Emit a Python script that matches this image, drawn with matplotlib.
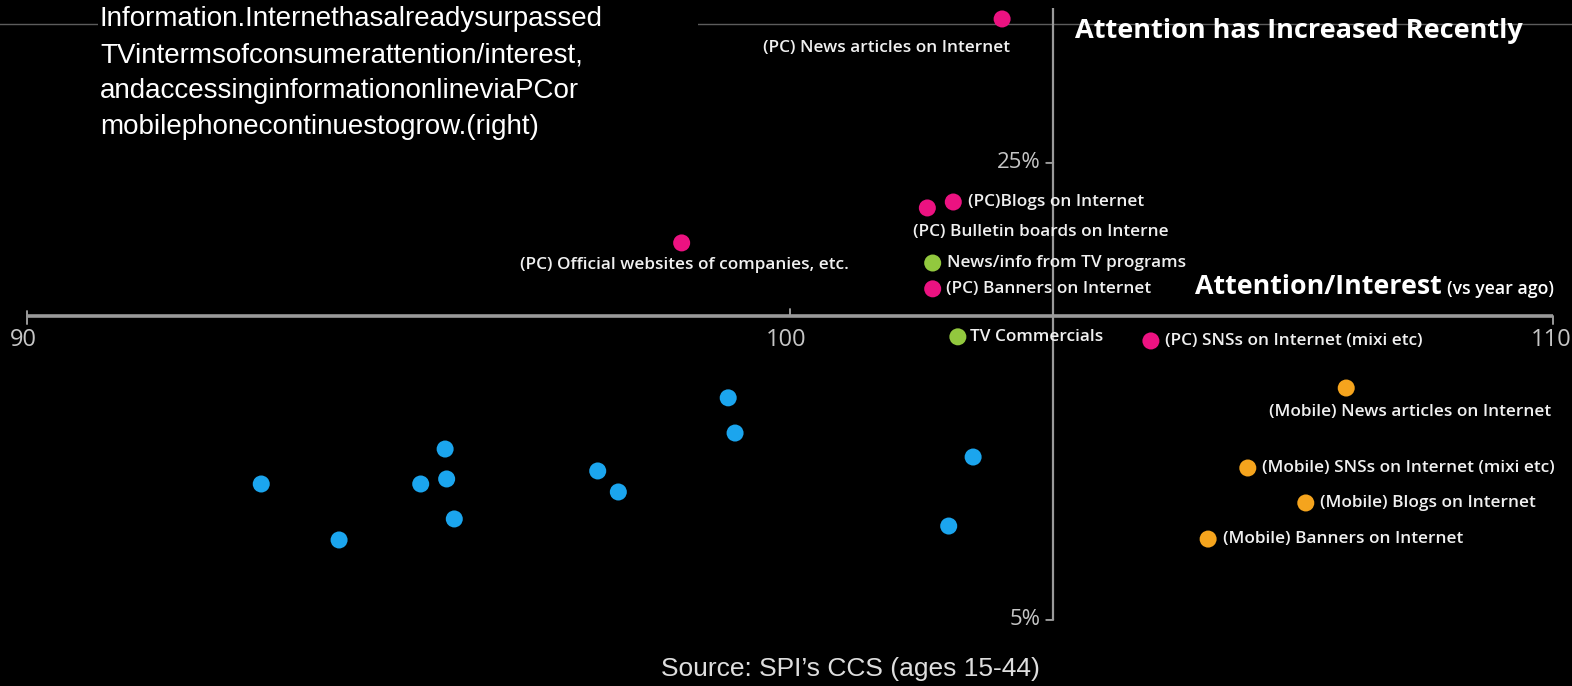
import matplotlib
matplotlib.use("Agg")
import matplotlib.pyplot as plt
from matplotlib.lines import Line2D
from matplotlib.patches import Rectangle

# ---------------- data ----------------
pc_labels = ["(PC) News articles on Internet", "(PC)Blogs on Internet",
             "(PC) Bulletin boards on Interne", "(PC) Official websites of companies, etc.",
             "(PC) Banners on Internet", "(PC) SNSs on Internet (mixi etc)"]
pc_x = [102.78, 102.14, 101.80, 98.58, 101.87, 104.73]
pc_y = [31.30, 23.29, 23.03, 21.50, 19.49, 17.21]

tv_labels = ["News/info from TV programs", "TV Commercials"]
tv_x = [101.87, 102.20]
tv_y = [20.62, 17.39]

mob_labels = ["(Mobile) News articles on Internet", "(Mobile) SNSs on Internet (mixi etc)",
              "(Mobile) Blogs on Internet", "(Mobile) Banners on Internet"]
mob_x = [107.29, 106.00, 106.76, 105.48]
mob_y = [15.15, 11.65, 10.12, 8.54]

other_x = [93.07, 94.09, 95.16, 95.48, 95.50, 95.60, 97.48, 97.75, 99.19, 99.28, 102.40, 102.08]
other_y = [10.95, 8.50, 10.95, 12.48, 11.17, 9.42, 11.52, 10.60, 14.72, 13.18, 12.13, 9.11]

x_ticks = [90, 100, 110]
y_ticks = [25, 5]
y_tick_labels = ["25%", "5%"]

# ---------------- style ----------------
BG = "black"
AX_COL = "#9a9a9a"
PINK = "#ec1281"
GREEN = "#92c83e"
ORANGE = "#f5a41d"
BLUE = "#1ba5ee"
LABEL_FONT = ["Open Sans", "DejaVu Sans"]
ARIAL = ["Liberation Sans", "DejaVu Sans"]
W, H = 1572, 686

fig = plt.figure(figsize=(W / 100, H / 100), dpi=100, facecolor=BG)
ax = fig.add_axes([0, 0, 1, 1], facecolor=BG)
ax.set_xlim(89.646, 110.249)
ax.set_ylim(2.11, 32.13)
ax.axis("off")

# thin line near the top (partly hidden behind the description box)
fig.add_artist(Line2D([0, 1], [1 - 24 / H, 1 - 24 / H], transform=fig.transFigure,
                      color="#5c5c5c", lw=1.0, zorder=0))
fig.add_artist(Rectangle((98 / W, 1 - 150 / H), 600 / W, 150 / H, transform=fig.transFigure,
                         facecolor=BG, edgecolor="none", zorder=1))

# axes lines (cross)
x_cross = 103.45
y_cross = 18.30
ax.plot([x_ticks[0], x_ticks[-1]], [y_cross, y_cross], color=AX_COL, lw=2.6,
        solid_capstyle="butt", zorder=1)
ax.plot([x_cross, x_cross], [y_ticks[-1], 31.78], color=AX_COL, lw=1.6,
        solid_capstyle="butt", zorder=1)

# x ticks and labels
tick_dirs = [(5, -8), (7, 0), (0, -8)]
for xv, (up, down) in zip(x_ticks, tick_dirs):
    ax.annotate("", xy=(xv, y_cross), xycoords="data",
                xytext=(0, up), textcoords="offset pixels",
                arrowprops=dict(arrowstyle="-", color=AX_COL, lw=1.4, shrinkA=0, shrinkB=0))
    ax.annotate("", xy=(xv, y_cross), xycoords="data",
                xytext=(0, down), textcoords="offset pixels",
                arrowprops=dict(arrowstyle="-", color=AX_COL, lw=1.4, shrinkA=0, shrinkB=0))
    ax.annotate(str(xv), xy=(xv, y_cross), xytext=(-4 if xv != x_ticks[-1] else -2, -24),
                textcoords="offset pixels", ha="center", va="center",
                color="#c6c6c6", fontsize=17, family=LABEL_FONT)

# y ticks (leftwards) and labels
for yv, yl in zip(y_ticks, y_tick_labels):
    ax.annotate("", xy=(x_cross, yv), xytext=(-7, 0), textcoords="offset pixels",
                arrowprops=dict(arrowstyle="-", color=AX_COL, lw=1.4, shrinkA=0, shrinkB=0))
    ax.annotate(yl, xy=(x_cross, yv), xytext=(-13, 0), textcoords="offset pixels",
                ha="right", va="center", color="#c6c6c6", fontsize=16, family=LABEL_FONT)

MS = 150
ax.scatter(other_x, other_y, s=MS, color=BLUE, edgecolors="none", zorder=3)
ax.scatter(pc_x, pc_y, s=MS, color=PINK, edgecolors="none", zorder=3)
ax.scatter(tv_x, tv_y, s=MS, color=GREEN, edgecolors="none", zorder=3)
ax.scatter(mob_x, mob_y, s=MS, color=ORANGE, edgecolors="none", zorder=3)

LFS = 12.4
TXT = "#f0f0f0"

def lab(text, x, y, dx, dy, ha="left"):
    ax.annotate(text, xy=(x, y), xytext=(dx, dy), textcoords="offset pixels",
                ha=ha, va="center", color=TXT, fontsize=LFS, family=LABEL_FONT,
                fontweight="semibold", zorder=4)

pc_off = [(8, -29, "right"), (15, 0, "left"), (-14, -24, "left"),
          (3, -22, "center"), (13, 0, "left"), (14, 0, "left")]
for t, x, y, (dx, dy, ha) in zip(pc_labels, pc_x, pc_y, pc_off):
    lab(t, x, y, dx, dy, ha)

tv_off = [(14, 0, "left"), (12, 0, "left")]
for t, x, y, (dx, dy, ha) in zip(tv_labels, tv_x, tv_y, tv_off):
    lab(t, x, y, dx, dy, ha)

mob_off = [(205, -24, "right"), (14, 0, "left"), (14, 0, "left"), (15, 0, "left")]
for t, x, y, (dx, dy, ha) in zip(mob_labels, mob_x, mob_y, mob_off):
    lab(t, x, y, dx, dy, ha)

# headings
fig.text(1075 / W, 1 - 38 / H, "Attention has Increased Recently", ha="left", va="baseline",
         color="white", fontsize=19.5, fontweight="bold", family=LABEL_FONT, zorder=5)
fig.text(1195 / W, 1 - 294 / H, "Attention/Interest", ha="left", va="baseline",
         color="white", fontsize=19.3, fontweight="bold", family=LABEL_FONT)
fig.text(1447 / W, 1 - 294 / H, "(vs year ago)", ha="left", va="baseline",
         color="white", fontsize=12.7, fontweight="semibold", family=LABEL_FONT)

# description text (top-left)
desc_lines = ["Information.Internethasalreadysurpassed",
              "TVintermsofconsumerattention/interest,",
              "andaccessinginformationonlineviaPCor",
              "mobilephonecontinuestogrow.(right)"]
fig.text(100 / W, 1 - 6 / H, "\n".join(desc_lines), ha="left", va="top", color="white",
         fontsize=20, family=ARIAL, linespacing=1.5, zorder=5)

# source
fig.text(850 / W, 1 - 676 / H, "Source: SPI\u2019s CCS (ages 15-44)", ha="center", va="baseline",
         color="#dedede", fontsize=19, family=ARIAL)

fig.savefig("out.png", dpi=100, facecolor=BG)
